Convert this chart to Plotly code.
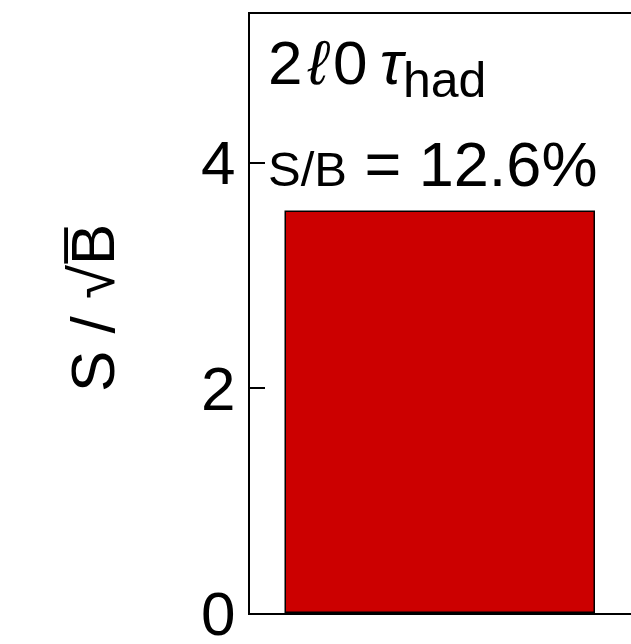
import plotly.graph_objects as go

categories = ["2l0tau_had"]
significance = [3.56]
y_ticks = [0, 2, 4]
y_tick_labels = ["0", "2", "4"]
channel_label = "2\u200a<i>ℓ</i>\u200a0\u2009<i>τ</i><sub><span style='font-size:50px'>had</span></sub>"
sb_label = "<span style='font-size:49px'>S/B</span> = 12.6%"

fig = go.Figure()
fig.add_trace(go.Bar(
    x=categories, y=significance, width=0.811,
    marker=dict(color="#CC0000", line=dict(color="black", width=1.5)),
))

fig.update_layout(
    width=631, height=644,
    margin=dict(l=250, r=0, t=14, b=31, autoexpand=False),
    paper_bgcolor="white", plot_bgcolor="white",
    showlegend=False,
    font=dict(family="Liberation Sans, Arial, sans-serif", color="black", size=62),
    xaxis=dict(range=[-0.5, 0.5], showticklabels=False, ticks="",
               showline=True, linecolor="black", linewidth=2, mirror=True,
               showgrid=False, zeroline=False, fixedrange=True,
               automargin=False),
    yaxis=dict(range=[0, 5.32], tickvals=y_ticks, ticktext=y_tick_labels,
               ticks="inside", ticklen=15, tickwidth=2, tickcolor="black",
               showline=True, linecolor="black", linewidth=2, mirror=False,
               showgrid=False, zeroline=False, ticklabelstandoff=0,
               ticklabeloverflow="allow", automargin=False,
               tickfont=dict(size=62)),
    bargap=0,
)

fig.add_annotation(text=channel_label, xref="paper", yref="paper",
                   x=(266 - 250) / 381, y=(613 - 110) / 599,
                   xanchor="left", yanchor="bottom", showarrow=False,
                   font=dict(size=62))
fig.add_annotation(text=sb_label, xref="paper", yref="paper",
                   x=(266 - 250) / 381, y=(613 - 201) / 599,
                   xanchor="left", yanchor="bottom", showarrow=False,
                   font=dict(size=63))
fig.add_annotation(text="S / √B\u0305", xref="paper", yref="paper",
                   x=(92 - 250) / 381, y=(613 - 308) / 599,
                   xanchor="center", yanchor="middle", textangle=-90,
                   showarrow=False, font=dict(size=62))

fig.write_html("out.html")
